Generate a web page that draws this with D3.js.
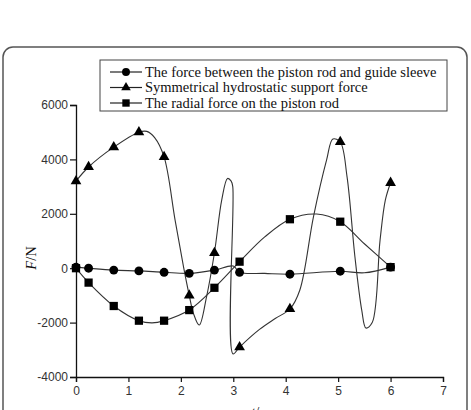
<!DOCTYPE html>
<html>
<head>
<meta charset="utf-8">
<script src="https://cdn.jsdelivr.net/npm/d3@7"></script>
<style>
  body { margin: 0; background: #fff; }
  .tick-label { font-family: "Liberation Sans", Arial, sans-serif; font-size: 12px; fill: #333; }
  .legend-text { font-family: "Liberation Serif", "Times New Roman", serif; font-size: 14.5px; fill: #111; }
</style>
</head>
<body>
<div id="chart"></div>
<script>

// marker times (shared by all three series)
var markerT = [0, 0.24, 0.72, 1.2, 1.68, 2.16, 2.64, 3.12, 4.08, 5.04, 6.0]

// force between piston rod and guide sleeve (circles)
var sleeveT = [0, 0.24, 0.72, 1.2, 1.68, 2.16, 2.64, 3.0, 3.12, 3.6, 4.08, 5.04, 5.5, 6.0]
var sleeveF = [40, 0, -70, -100, -150, -190, -70, 80, -150, -190, -220, -110, -170, 40]

// symmetrical hydrostatic support force (triangles)
var supportT = [0, 0.24, 0.72, 1.2, 1.35, 1.5, 1.68, 1.89, 2.05, 2.16, 2.24, 2.35, 2.49, 2.64, 2.78, 2.89, 2.96, 2.99, 2.995, 3.12, 3.5, 3.8, 4.08, 4.27, 4.53, 4.78, 4.9, 5.04, 5.17, 5.32, 5.45, 5.53, 5.65, 5.8, 5.9, 6.0]
var supportF = [3200, 3720, 4450, 5000, 5030, 4800, 4090, 1770, 55, -1000, -1660, -2090, -1050, 560, 2510, 3300, 3200, 3000, -3150, -2900, -2250, -1850, -1500, -800, 1900, 3980, 4750, 4640, 3360, 420, -1540, -2200, -2000, 1040, 2500, 3140]

// radial force on the piston rod (squares)
var radialT = [0, 0.24, 0.72, 1.2, 1.45, 1.68, 2.16, 2.64, 3.12, 3.6, 4.08, 4.59, 5.04, 5.5, 6.0]
var radialF = [0, -530, -1390, -1930, -2010, -1930, -1540, -720, 240, 1150, 1800, 1990, 1710, 900, 40]

var xTicks = [0, 1, 2, 3, 4, 5, 6, 7]
var yTicks = [-4000, -2000, 0, 2000, 4000, 6000]

var seriesNames = [
  "The force between the piston rod and guide sleeve",
  "Symmetrical hydrostatic support force",
  "The radial force on the piston rod"
]

var width = 471, height = 410

var svg = d3.select("#chart").append("svg")
  .attr("width", width)
  .attr("height", height)

// rounded frame round the whole figure
svg.append("rect")
  .attr("x", 3).attr("y", 47)
  .attr("width", 464).attr("height", 400)
  .attr("rx", 10).attr("ry", 10)
  .attr("fill", "none")
  .attr("stroke", "#555")
  .attr("stroke-width", 1.5)

var x = d3.scaleLinear().domain([0, 7]).range([76, 443])
var y = d3.scaleLinear().domain([-4000, 6000]).range([377, 105])

// plain hyphen for negatives, like the original figure
var plain = function(d){ return String(d) }

//AXES
var xAxis = svg.append("g")
  .attr("transform", "translate(0," + y(-4000) + ")")
  .call(d3.axisBottom(x).tickValues(xTicks).tickSize(5).tickPadding(4).tickFormat(plain))
var yAxis = svg.append("g")
  .attr("transform", "translate(" + x(0) + ",0)")
  .call(d3.axisLeft(y).tickValues(yTicks).tickSize(6).tickPadding(2).tickFormat(plain))

;[xAxis, yAxis].forEach(function(a){
  a.select(".domain").attr("stroke", "#111").attr("stroke-width", 1.3)
  a.selectAll(".tick line").attr("stroke", "#111").attr("stroke-width", 1.2)
  a.selectAll(".tick text").attr("class", "tick-label").attr("fill", null)
})

// axis titles
svg.append("text")
  .attr("transform", "translate(36,258) rotate(-90)")
  .attr("text-anchor", "middle")
  .attr("class", "legend-text")
  .html('<tspan font-style="italic">F</tspan>/N')

// x title sits mostly below the bottom edge, as in the reference
svg.append("text")
  .attr("x", 258).attr("y", 417)
  .attr("text-anchor", "middle")
  .attr("class", "legend-text")
  .html('<tspan font-style="italic">t</tspan>/s')

//LINES
var line = d3.line()
  .x(function(d){ return x(d[0]) })
  .y(function(d){ return y(d[1]) })
  .curve(d3.curveCatmullRom.alpha(0.5))

function zipUp(ts, fs){ return ts.map(function(t, i){ return [t, fs[i]] }) }

var series = [
  { pts: zipUp(sleeveT, sleeveF), shape: d3.symbolCircle, size: 62 },
  { pts: zipUp(supportT, supportF), shape: d3.symbolTriangle, size: 50 },
  { pts: zipUp(radialT, radialF), shape: d3.symbolSquare, size: 68 }
]

series.forEach(function(s){
  svg.append("path")
    .attr("d", line(s.pts))
    .attr("fill", "none")
    .attr("stroke", "#333")
    .attr("stroke-width", 1.1)
})

series.forEach(function(s){
  var marks = s.pts.filter(function(p){ return markerT.indexOf(p[0]) > -1 })
  svg.selectAll(null)
    .data(marks)
    .enter().append("path")
    .attr("d", d3.symbol().type(s.shape).size(s.size))
    .attr("transform", function(d){ return "translate(" + x(d[0]) + "," + y(d[1]) + ")" })
    .attr("fill", "#000")
})

//LEGEND
var legend = svg.append("g")
legend.append("rect")
  .attr("x", 100).attr("y", 60)
  .attr("width", 347).attr("height", 51)
  .attr("fill", "#fff")
  .attr("stroke", "#444")
  .attr("stroke-width", 1)

series.forEach(function(s, i){
  var ly = 72 + i * 15.5
  legend.append("line")
    .attr("x1", 110).attr("x2", 142)
    .attr("y1", ly).attr("y2", ly)
    .attr("stroke", "#222").attr("stroke-width", 1.2)
  legend.append("path")
    .attr("d", d3.symbol().type(s.shape).size(s.size * 0.8))
    .attr("transform", "translate(126," + ly + ")")
    .attr("fill", "#000")
  legend.append("text")
    .attr("class", "legend-text")
    .attr("x", 145).attr("y", ly + 4.5)
    .text(seriesNames[i])
})

</script>
</body>
</html>
